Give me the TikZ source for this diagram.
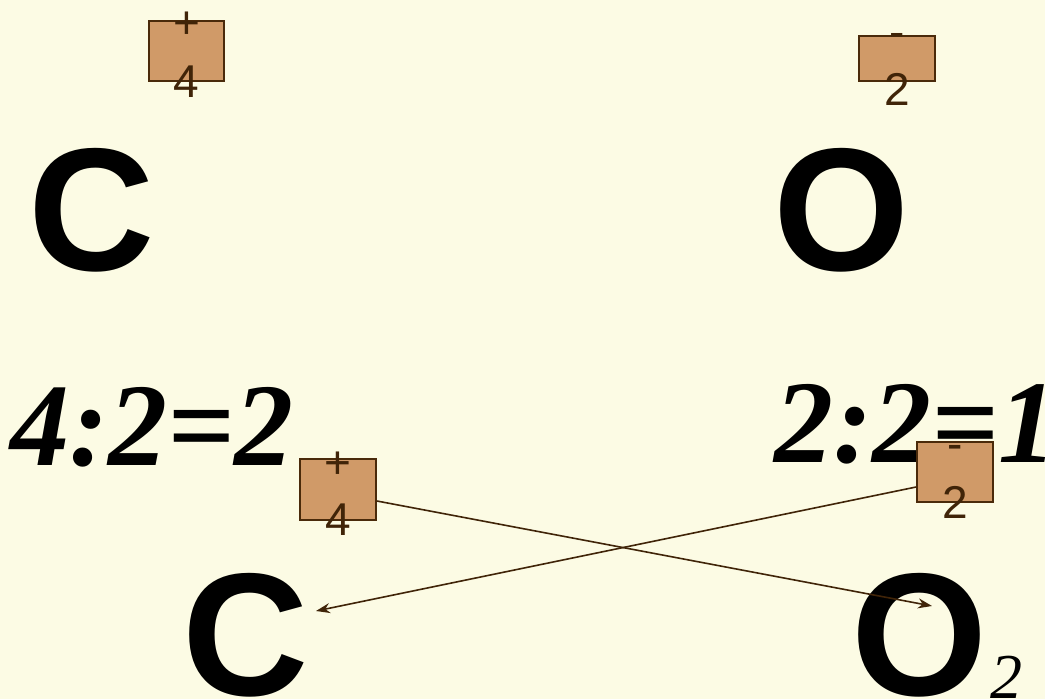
\documentclass[tikz,border=0pt]{standalone}
\usepackage{fontspec}
\setmainfont{Liberation Serif}
\setsansfont{Liberation Sans}
\usetikzlibrary{arrows.meta}
\definecolor{bg}{RGB}{252,251,228}
\definecolor{boxfill}{RGB}{208,154,104}
\definecolor{boxline}{RGB}{74,42,10}
\definecolor{txtbrown}{RGB}{64,36,8}
\tikzset{
  chargebox/.style={draw=boxline, fill=boxfill, line width=1.8pt, inner sep=0pt},
  signtxt/.style={anchor=base, inner sep=0pt, text=txtbrown, font=\sffamily\fontsize{46}{46}\selectfont},
  bigel/.style={anchor=base west, inner sep=0pt, font=\sffamily\bfseries\fontsize{175}{175}\selectfont},
  ratio/.style={anchor=base west, inner sep=0pt, font=\rmfamily\bfseries\itshape\fontsize{118}{118}\selectfont},
  subtxt/.style={anchor=base west, inner sep=0pt, font=\rmfamily\itshape\fontsize{64}{64}\selectfont},
  conn/.style={draw=txtbrown, line width=1.6pt, -{Stealth[length=14pt,width=10pt]}}
}
\begin{document}
\begin{tikzpicture}[x=1pt,y=-1pt]
\useasboundingbox (0,0) rectangle (1045,699);
\fill[bg] (0,0) rectangle (1045,699);
% top row
\node[chargebox, minimum width=75pt, minimum height=60pt] (b1) at (186.5,51) {};
\node[signtxt] (s1) at (186.5,38) {+};
\node[signtxt] (d1) at (186.5,97) {4};
\node[chargebox, minimum width=76pt, minimum height=45pt] (b2) at (897,58.5) {};
\node[signtxt] (s2) at (897,47) {-};
\node[signtxt] (d2) at (897,105) {2};
\node[bigel] (c1) at (28,270) {C};
\node[bigel] (o1) at (773,270) {O};
% ratios
\node[ratio] (r1) at (10,465) {4:2=2};
\node[ratio] (r2) at (774,462) {2:2=1};
% bottom row
\node[bigel] (c2) at (182,695) {C};
\node[bigel] (o2) at (851,695) {O};
\node[subtxt] (sub) at (990,698) {2};
\node[chargebox, minimum width=76pt, minimum height=61pt] (b3) at (338,489.5) {};
\node[signtxt] (s3) at (338,478) {+};
\node[signtxt] (d3) at (338,535) {4};
\node[chargebox, minimum width=76pt, minimum height=60pt] (b4) at (955,472) {};
\node[signtxt] (s4) at (955,459) {-};
\node[signtxt] (d4) at (955,518) {2};
% connectors
\coordinate (t1) at (932,606);
\coordinate (t2) at (316,611);
\draw[conn] ([yshift=-11.5pt]b3.east) -- (t1);
\draw[conn] ([yshift=-15pt]b4.west) -- (t2);
\end{tikzpicture}
\end{document}
